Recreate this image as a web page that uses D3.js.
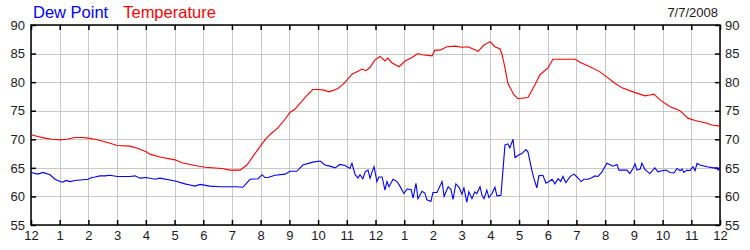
<!DOCTYPE html>
<html>
<head>
<meta charset="utf-8">
<script src="https://cdn.jsdelivr.net/npm/d3@7"></script>
<style>
  body { margin: 0; background: #fff; }
  svg { display: block; font-family: Arial, "Liberation Sans", sans-serif; }
  .grid line { stroke: #c8c8c8; stroke-width: 1; shape-rendering: crispEdges; }
  .grid .domain { display: none; }
  .lbl text { font-size: 13px; fill: #1a1a1a; }
  .lbl .domain, .lbl line { display: none; }
  .tk line { stroke: #000; stroke-width: 1.5; }
  .tk .domain, .tk text { display: none; }
</style>
</head>
<body>
<div id="chart"></div>
<script>
// hours since midnight, 7/7/2008
const tempHours = [0, 0.24, 0.49, 0.73, 1.01, 1.25, 1.53, 1.78, 1.99, 2.23, 2.47, 2.75, 3.0, 3.45, 3.73, 4.01, 4.14, 4.49,
  5.02, 5.26, 5.71, 6.06, 6.65, 6.93, 7.28, 7.52, 7.8, 8.15, 8.32, 8.6, 8.85, 9.02, 9.2, 9.37, 9.58, 9.82, 10.0,
  10.21, 10.38, 10.55, 10.69, 10.87, 11.01, 11.18, 11.39, 11.53, 11.67, 11.81, 11.98, 12.16, 12.33, 12.43, 12.57,
  12.82, 13.03, 13.27, 13.48, 13.62, 13.97, 14.07, 14.25, 14.49, 14.77, 15.01, 15.22, 15.36, 15.57, 15.78, 15.99,
  16.16, 16.34, 16.41, 16.51, 16.61, 16.82, 16.96, 17.31, 17.55, 17.73, 18.01, 18.18, 18.95, 19.12, 19.47, 19.82,
  20.03, 20.34, 20.59, 20.97, 21.39, 21.56, 21.7, 21.91, 22.26, 22.61, 22.88, 23.13, 23.48, 23.72, 24.0]
const tempValues = [70.8, 70.5, 70.2, 70.0, 69.9, 70.0, 70.3, 70.3, 70.2, 70.0, 69.7, 69.3, 68.9, 68.8, 68.4, 67.8, 67.4, 66.9,
  66.4, 65.9, 65.4, 65.1, 64.9, 64.6, 64.6, 65.5, 67.5, 69.9, 70.8, 72.0, 73.5, 74.7, 75.3, 76.3, 77.5, 78.7, 78.7,
  78.6, 78.3, 78.6, 78.9, 79.6, 80.4, 81.4, 81.9, 82.3, 82.0, 82.6, 83.9, 84.5, 83.7, 84.2, 83.4,
  82.7, 83.7, 84.3, 85.0, 84.8, 84.6, 85.6, 85.6, 86.2, 86.3, 86.1, 86.2, 85.9, 85.4, 86.5, 87.1,
  86.2, 85.8, 84.8, 82.5, 79.8, 77.8, 77.1, 77.3, 79.5, 81.3, 82.5, 84.0, 84.0, 83.5, 82.7, 81.8,
  81.0, 79.8, 79.0, 78.3, 77.6, 77.75, 77.9, 76.9, 75.7, 75.0, 73.7, 73.3, 72.9, 72.5, 72.3]

const dewHours = [0, 0.24, 0.42, 0.66, 0.84, 1.01, 1.11, 1.22, 1.36, 1.53, 1.99, 2.12, 2.23, 2.4, 2.58, 2.75, 3.0, 3.45,
  3.62, 3.8, 4.01, 4.32, 4.49, 5.02, 5.36, 5.54, 5.71, 5.89, 6.23, 6.58, 7.11, 7.38, 7.63, 7.91, 8.05, 8.15, 8.25,
  8.5, 8.85, 9.02, 9.26, 9.47, 9.82, 10.07, 10.24, 10.41, 10.59, 10.76, 10.94, 11.11, 11.18, 11.29, 11.39, 11.46,
  11.56, 11.64, 11.74, 11.81, 11.88, 11.95, 12.05, 12.12, 12.23, 12.33, 12.4, 12.47, 12.61, 12.75, 12.85, 12.99,
  13.1, 13.24, 13.31, 13.41, 13.48, 13.62, 13.72, 13.79, 13.93, 14.0, 14.14, 14.32, 14.39, 14.53, 14.63, 14.7,
  14.8, 14.91, 15.01, 15.08, 15.18, 15.25, 15.36, 15.46, 15.53, 15.64, 15.71, 15.78, 15.88, 15.95, 16.06, 16.16,
  16.23, 16.37, 16.44, 16.51, 16.61, 16.68, 16.79, 16.86, 17.0, 17.1, 17.24, 17.31, 17.45, 17.52, 17.62, 17.69,
  17.83, 17.94, 18.04, 18.15, 18.25, 18.36, 18.45, 18.53, 18.63, 18.74, 18.81, 18.91, 19.02, 19.16, 19.26, 19.4,
  19.55, 19.64, 19.75, 19.89, 19.99, 20.06, 20.19, 20.27, 20.41, 20.48, 20.62, 20.76, 20.86, 20.97, 21.04, 21.11,
  21.22, 21.28, 21.39, 21.56, 21.73, 21.84, 21.98, 22.12, 22.26, 22.4, 22.5, 22.61, 22.68, 22.74, 22.85, 22.95,
  23.06, 23.13, 23.2, 23.3, 23.55, 23.76, 23.9, 23.93, 24.0]
const dewValues = [64.2, 63.9, 64.2, 63.8, 63.0, 62.6, 62.5, 62.8, 62.6, 62.8, 63.0, 63.3, 63.4, 63.6, 63.6, 63.7, 63.5, 63.5,
  63.6, 63.2, 63.3, 63.0, 63.2, 62.7, 62.2, 62.0, 61.8, 62.1, 61.8, 61.7, 61.7, 61.6, 63.0, 63.1, 63.8, 63.3, 63.3,
  63.7, 63.9, 64.4, 64.4, 65.5, 66.0, 66.2, 65.5, 65.3, 65.0, 65.6, 65.4, 64.9, 65.8, 63.8, 63.2, 63.8,
  63.1, 64.3, 64.6, 63.2, 64.3, 65.2, 62.6, 63.4, 63.4, 61.1, 62.6, 61.7, 63.0, 62.6, 61.8, 60.5,
  61.3, 61.2, 59.7, 62.3, 59.6, 60.9, 60.6, 59.4, 59.1, 60.7, 60.7, 62.6, 60.0, 61.7, 61.2, 59.5,
  62.2, 61.6, 60.4, 61.5, 59.0, 60.8, 59.6, 60.8, 60.5, 61.7, 60.2, 59.6, 61.1, 59.8, 60.5, 61.6,
  60.1, 60.2, 64.6, 69.0, 69.2, 68.5, 70.0, 66.8, 67.3, 67.5, 68.2, 67.8, 64.5, 63.1, 61.5, 63.6,
  63.7, 62.3, 62.6, 63.0, 62.2, 63.1, 62.6, 63.5, 62.4, 63.2, 63.6, 63.9, 63.4, 62.6, 63.0, 63.0,
  63.3, 63.6, 63.5, 64.3, 65.2, 65.8, 65.5, 65.3, 65.6, 64.6, 64.6, 64.6, 64.0, 64.9, 65.7, 64.6,
  64.8, 65.8, 64.7, 64.0, 65.0, 64.3, 64.5, 64.6, 64.2, 64.1, 64.9, 64.5, 64.8, 64.2, 64.6, 64.5,
  65.2, 64.5, 65.8, 65.5, 65.2, 65.0, 65.0, 64.6, 64.9]

const hourTicks = d3.range(0, 25)
const valueTicks = [55, 60, 65, 70, 75, 80, 85, 90]
const seriesNames = ["Dew Point", "Temperature"]
const seriesColors = ["#0000ff", "#ff0000"]
const dateLabel = "7/7/2008"

const width = 750, height = 250
const margin = {top: 25, right: 30, bottom: 25, left: 31}
const innerW = width - margin.left - margin.right
const innerH = height - margin.top - margin.bottom

const svg = d3.select("#chart").append("svg")
    .attr("width", width)
    .attr("height", height)

const x = d3.scaleLinear().domain([0, 24]).range([margin.left, margin.left + innerW])
const y = d3.scaleLinear().domain([55, 90]).range([margin.top + innerH, margin.top])

const hourFmt = h => (h % 12 === 0 ? 12 : h % 12)

// grid
svg.append("g").attr("class", "grid")
    .attr("transform", `translate(0,${margin.top})`)
    .call(d3.axisBottom(x).tickValues(hourTicks).tickSize(innerH).tickFormat(""))
svg.append("g").attr("class", "grid")
    .attr("transform", `translate(${margin.left},0)`)
    .call(d3.axisRight(y).tickValues(valueTicks).tickSize(innerW).tickFormat(""))

// tick marks pointing inward
svg.append("g").attr("class", "tk")
    .attr("transform", `translate(0,${margin.top})`)
    .call(d3.axisBottom(x).tickValues(hourTicks).tickSize(5))
svg.append("g").attr("class", "tk")
    .attr("transform", `translate(0,${margin.top + innerH})`)
    .call(d3.axisTop(x).tickValues(hourTicks).tickSize(5))
svg.append("g").attr("class", "tk")
    .attr("transform", `translate(${margin.left},0)`)
    .call(d3.axisRight(y).tickValues(valueTicks).tickSize(5))
svg.append("g").attr("class", "tk")
    .attr("transform", `translate(${margin.left + innerW},0)`)
    .call(d3.axisLeft(y).tickValues(valueTicks).tickSize(5))

// frame
svg.append("rect")
    .attr("x", margin.left).attr("y", margin.top)
    .attr("width", innerW).attr("height", innerH)
    .attr("fill", "none").attr("stroke", "#000").attr("stroke-width", 1.5)

// labels
svg.append("g").attr("class", "lbl")
    .attr("transform", `translate(0,${margin.top + innerH})`)
    .call(d3.axisBottom(x).tickValues(hourTicks).tickSize(0).tickPadding(6).tickFormat(hourFmt))
svg.append("g").attr("class", "lbl")
    .attr("transform", `translate(${margin.left},0)`)
    .call(d3.axisLeft(y).tickValues(valueTicks).tickSize(0).tickPadding(6))
svg.append("g").attr("class", "lbl")
    .attr("transform", `translate(${margin.left + innerW},0)`)
    .call(d3.axisRight(y).tickValues(valueTicks).tickSize(0).tickPadding(5))

// lines
const line = d3.line().x(d => x(d[0])).y(d => y(d[1]))
const dew = d3.zip(dewHours, dewValues)
const temp = d3.zip(tempHours, tempValues)

svg.append("path").datum(dew)
    .attr("d", line).attr("fill", "none")
    .attr("stroke", seriesColors[0]).attr("stroke-width", 1.1)
svg.append("path").datum(temp)
    .attr("d", line).attr("fill", "none")
    .attr("stroke", seriesColors[1]).attr("stroke-width", 1.1)

// legend title
const legend = svg.append("text")
    .attr("x", 33).attr("y", 18)
    .style("font-size", "16.5px")
legend.append("tspan").attr("fill", seriesColors[0]).text(seriesNames[0])
legend.append("tspan").attr("fill", seriesColors[1]).attr("dx", 15).text(seriesNames[1])

svg.append("text")
    .attr("x", 718).attr("y", 17)
    .attr("text-anchor", "end")
    .style("font-size", "13px")
    .attr("fill", "#1a1a1a")
    .text(dateLabel)
</script>
</body>
</html>
